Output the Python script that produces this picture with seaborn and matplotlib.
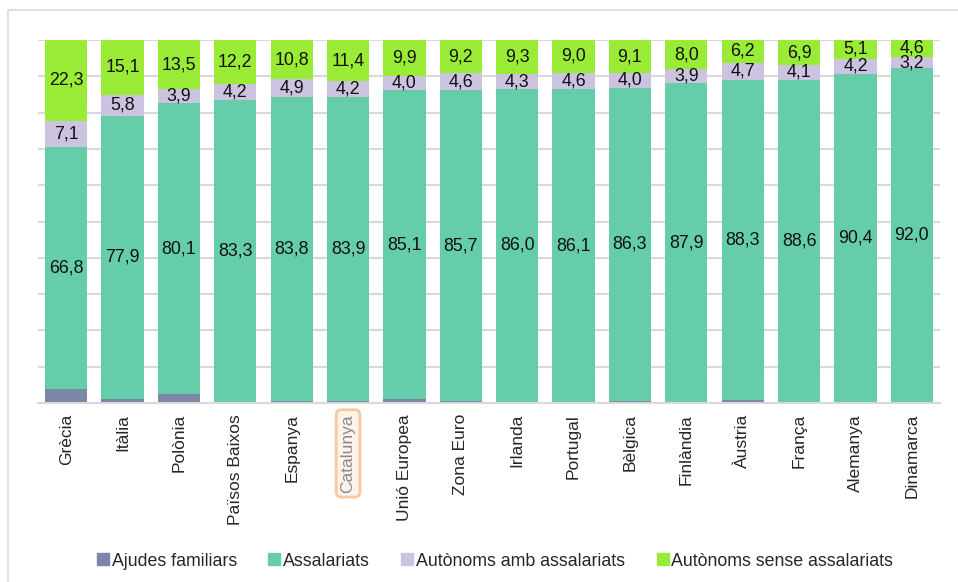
import matplotlib
matplotlib.use("Agg")
import matplotlib.pyplot as plt
import seaborn as sns
import pandas as pd
import numpy as np
from matplotlib.lines import Line2D

categories = ["Grècia", "Itàlia", "Polònia", "Països Baixos", "Espanya", "Catalunya",
              "Unió Europea", "Zona Euro", "Irlanda", "Portugal", "Bèlgica", "Finlàndia",
              "Àustria", "França", "Alemanya", "Dinamarca"]
ajudes = [3.8, 1.2, 2.5, 0.3, 0.5, 0.5, 1.0, 0.5, 0.4, 0.3, 0.6, 0.2, 0.8, 0.4, 0.3, 0.2]
assalariats = [66.8, 77.9, 80.1, 83.3, 83.8, 83.9, 85.1, 85.7, 86.0, 86.1, 86.3, 87.9, 88.3, 88.6, 90.4, 92.0]
amb = [7.1, 5.8, 3.9, 4.2, 4.9, 4.2, 4.0, 4.6, 4.3, 4.6, 4.0, 3.9, 4.7, 4.1, 4.2, 3.2]
sense = [22.3, 15.1, 13.5, 12.2, 10.8, 11.4, 9.9, 9.2, 9.3, 9.0, 9.1, 8.0, 6.2, 6.9, 5.1, 4.6]

series_names = ["Ajudes familiars", "Assalariats", "Autònoms amb assalariats", "Autònoms sense assalariats"]
series_vals = [ajudes, assalariats, amb, sense]
colors = ["#7b86a8", "#66cdaa", "#ccc3e0", "#9aeb35"]
labelled = [False, True, True, True]

sns.set_style("white")
plt.rcParams['font.family'] = ['Liberation Sans', 'DejaVu Sans']

fig = plt.figure(figsize=(9.58, 5.82), dpi=100)
ax = fig.add_axes([38/958, 1-403/582, (940-38)/958, (403-40)/582])

bottom = np.zeros(len(categories))
for name, vals, col, lab in zip(series_names, series_vals, colors, labelled):
    df = pd.DataFrame({"cat": categories, "val": vals})
    sns.barplot(data=df, x="cat", y="val", color=col, width=0.75, bottom=bottom,
                ax=ax, saturation=1, label=name, edgecolor="none", linewidth=0)
    if lab:
        for i, v in enumerate(vals):
            ax.text(i, bottom[i] + v/2, f"{v:.1f}".replace(".", ","), ha="center", va="center",
                    fontsize=12.8, color="#111111")
    bottom = bottom + np.array(vals)

ax.set_xlim(-0.5, 15.5)
ax.set_ylim(0, 100)
ax.set_yticks(np.arange(0, 101, 10))
ax.set_yticklabels([])
ax.tick_params(axis="y", length=0)
ax.tick_params(axis="x", length=0, pad=8)
ax.yaxis.grid(True, color="#d9d9d9", linewidth=1.5)
ax.set_axisbelow(True)
for s in ["top", "right", "left"]:
    ax.spines[s].set_visible(False)
ax.spines["bottom"].set_color("#d9d9d9")
ax.spines["bottom"].set_linewidth(1.5)
ax.set_xlabel("")
ax.set_ylabel("")
ax.set_xticks(range(len(categories)))
ax.set_xticklabels(categories, rotation=90, fontsize=12.5, va="top")
for t in ax.get_xticklabels():
    if t.get_text() == "Catalunya":
        t.set_color("#8a8a8a")
        t.set_bbox(dict(boxstyle="round,pad=0.25,rounding_size=0.3", facecolor="#fdf3ea",
                        edgecolor="#f9c8a0", linewidth=2))

leg = ax.get_legend()
if leg:
    leg.remove()
handles = [Line2D([0], [0], marker="s", linestyle="none", markersize=8,
                  markerfacecolor=c, markeredgecolor=c) for c in colors]
fig.legend(handles, series_names, loc="center", bbox_to_anchor=(494/958, 1-561/582), ncol=4,
           frameon=False, fontsize=12.8, handletextpad=0.05, columnspacing=1.65, handlelength=0.9)

# outer frame: only left and top edges visible
fig.add_artist(Line2D([8/958, 8/958, 1.0], [0.0, 1-10/582, 1-10/582],
                      transform=fig.transFigure, color="#d9d9d9", linewidth=1.2))

fig.savefig("out.png", dpi=100)
